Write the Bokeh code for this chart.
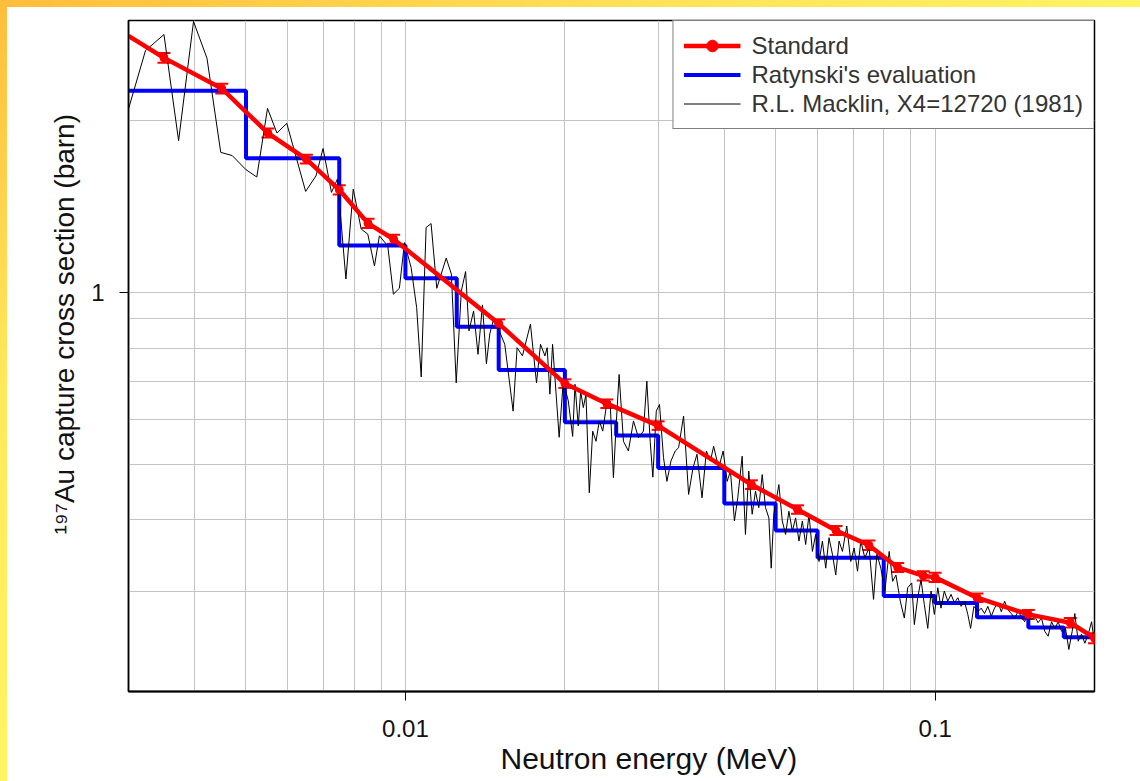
import numpy as np
from bokeh.plotting import figure
from bokeh.models import (FixedTicker, Legend, LegendItem, Title, Whisker, TeeHead,
                          ColumnDataSource, Range1d, CustomJSTickFormatter)
from bokeh.embed import file_html
from bokeh.resources import INLINE

# ---------------- data ----------------
# Standard evaluation (red, with error bars)
std_e = [0.0035, 0.0045, 0.0055, 0.0065, 0.0075, 0.0085, 0.0095, 0.015, 0.020, 0.024,
         0.030, 0.045, 0.055, 0.065, 0.075, 0.085, 0.095, 0.10, 0.12, 0.15, 0.18, 0.20]
std_s = [2.58, 2.28, 1.905, 1.715, 1.515, 1.323, 1.241, 0.883, 0.693, 0.639,
         0.585, 0.461, 0.417, 0.383, 0.361, 0.330, 0.319, 0.317, 0.292, 0.273, 0.264, 0.248]
std_err = [0.05, 0.045, 0.035, 0.03, 0.028, 0.025, 0.022, 0.015, 0.012, 0.011,
           0.010, 0.008, 0.007, 0.007, 0.007, 0.006, 0.006, 0.006, 0.005, 0.005, 0.005, 0.005]
# value of the standard curve where it enters the plot at the left edge
std_edge_e = [0.003]
std_edge_s = [2.82]

# Ratynski's evaluation (blue step function): group edges and values
rat_e = [0.003, 0.005, 0.0075, 0.01, 0.0125, 0.015, 0.02, 0.025, 0.03, 0.04, 0.05,
         0.06, 0.08, 0.1, 0.12, 0.15, 0.175, 0.2]
rat_s = [2.26, 1.72, 1.21, 1.06, 0.872, 0.732, 0.593, 0.562, 0.493, 0.427, 0.383,
         0.343, 0.294, 0.286, 0.270, 0.259, 0.249, 0.249]

# R.L. Macklin, X4=12720 (1981) (black)
mack_e = [0.00300, 0.00323, 0.00350, 0.00373, 0.00398, 0.00422, 0.00448, 0.00471, 0.00500, 0.00524,
          0.00549, 0.00572, 0.00597, 0.00648, 0.00678, 0.00699, 0.00725, 0.00744, 0.00772, 0.00797,
          0.00825, 0.00849, 0.00874, 0.00893, 0.00926, 0.00949, 0.00974, 0.00996, 0.01025, 0.01050,
          0.01071, 0.01094, 0.01118, 0.01146, 0.01194, 0.01221, 0.01247, 0.01275, 0.01299, 0.01318,
          0.01345, 0.01371, 0.01398, 0.01422, 0.01443, 0.01464, 0.01495, 0.01540, 0.01597, 0.01625,
          0.01663, 0.01722, 0.01768, 0.01799, 0.01834, 0.01852, 0.01874, 0.01896, 0.01951, 0.01986,
          0.02030, 0.02069, 0.02090, 0.02120, 0.02142, 0.02167, 0.02192, 0.02224, 0.02257, 0.02290,
          0.02323, 0.02358, 0.02393, 0.02435, 0.02470, 0.02500, 0.02532, 0.02580, 0.02636, 0.02695,
          0.02754, 0.02814, 0.02856, 0.02898, 0.02932, 0.02976, 0.03018, 0.03071, 0.03117, 0.03172,
          0.03232, 0.03279, 0.03351, 0.03425, 0.03491, 0.03552, 0.03631, 0.03700, 0.03765, 0.03819,
          0.03904, 0.03980, 0.04050, 0.04108, 0.04180, 0.04241, 0.04323, 0.04385, 0.04449, 0.04515,
          0.04581, 0.04647, 0.04717, 0.04785, 0.04855, 0.04905, 0.04961, 0.05071, 0.05147, 0.05221,
          0.05297, 0.05377, 0.05454, 0.05534, 0.05616, 0.05698, 0.05780, 0.05867, 0.05951, 0.06038,
          0.06128, 0.06217, 0.06307, 0.06400, 0.06494, 0.06588, 0.06686, 0.06812, 0.06932, 0.07033,
          0.07138, 0.07241, 0.07369, 0.07508, 0.07653, 0.07765, 0.07900, 0.08040, 0.08192, 0.08316,
          0.08436, 0.08597, 0.08749, 0.08878, 0.09035, 0.09138, 0.09273, 0.09408, 0.09544, 0.09687,
          0.09827, 0.09970, 0.1012, 0.1026, 0.1041, 0.1057, 0.1072, 0.1088, 0.1104, 0.1120,
          0.1136, 0.1153, 0.1167, 0.1184, 0.1205, 0.1222, 0.1240, 0.1258, 0.1277, 0.1295,
          0.1315, 0.1334, 0.1353, 0.1373, 0.1393, 0.1413, 0.1434, 0.1455, 0.1476, 0.1498,
          0.1520, 0.1542, 0.1565, 0.1588, 0.1611, 0.1635, 0.1659, 0.1683, 0.1708, 0.1733,
          0.1763, 0.1789, 0.1815, 0.1836, 0.1863, 0.1890, 0.1918, 0.1946, 0.1975, 0.1998]
mack_s = [2.100, 2.657, 2.835, 1.847, 2.988, 2.576, 1.762, 1.739, 1.643, 1.595,
          2.104, 1.905, 1.981, 1.505, 1.603, 1.790, 1.499, 1.582, 1.057, 1.519,
          1.293, 1.267, 1.114, 1.258, 1.208, 0.994, 1.018, 1.224, 1.107, 0.942,
          0.712, 1.301, 1.322, 1.018, 1.150, 1.078, 0.695, 1.007, 1.089, 0.857,
          0.929, 0.780, 0.952, 0.751, 0.847, 0.892, 0.869, 0.812, 0.620, 0.801,
          0.775, 0.881, 0.695, 0.812, 0.775, 0.801, 0.664, 0.812, 0.558, 0.700,
          0.646, 0.560, 0.691, 0.584, 0.672, 0.629, 0.664, 0.446, 0.572, 0.549,
          0.596, 0.572, 0.629, 0.646, 0.474, 0.588, 0.719, 0.549, 0.528, 0.596,
          0.557, 0.572, 0.700, 0.549, 0.475, 0.620, 0.637, 0.514, 0.467, 0.507,
          0.528, 0.535, 0.608, 0.443, 0.493, 0.521, 0.437, 0.528, 0.507, 0.538,
          0.493, 0.528, 0.467, 0.487, 0.398, 0.437, 0.517, 0.377, 0.487, 0.409,
          0.449, 0.420, 0.480, 0.420, 0.403, 0.329, 0.409, 0.461, 0.398, 0.377,
          0.414, 0.382, 0.403, 0.367, 0.398, 0.362, 0.409, 0.352, 0.377, 0.338,
          0.367, 0.329, 0.372, 0.348, 0.320, 0.367, 0.352, 0.390, 0.338, 0.357,
          0.325, 0.367, 0.343, 0.357, 0.290, 0.348, 0.329, 0.300, 0.352, 0.312,
          0.320, 0.288, 0.269, 0.304, 0.310, 0.262, 0.292, 0.314, 0.284, 0.258,
          0.300, 0.273, 0.304, 0.280, 0.300, 0.288, 0.296, 0.286, 0.292, 0.282,
          0.288, 0.273, 0.258, 0.282, 0.276, 0.280, 0.274, 0.282, 0.271, 0.280,
          0.286, 0.276, 0.288, 0.278, 0.274, 0.269, 0.276, 0.271, 0.265, 0.274,
          0.267, 0.271, 0.264, 0.269, 0.255, 0.250, 0.265, 0.258, 0.265, 0.255,
          0.258, 0.237, 0.255, 0.274, 0.245, 0.252, 0.243, 0.252, 0.265, 0.245]

# axis ticks
x_major = [0.01, 0.1]
x_minor = [0.003, 0.004, 0.005, 0.006, 0.007, 0.008, 0.009,
           0.02, 0.03, 0.04, 0.05, 0.06, 0.07, 0.08, 0.09, 0.2]
y_major = [1]
y_minor = [0.2, 0.3, 0.4, 0.5, 0.6, 0.7, 0.8, 0.9, 2, 3]

# ---------------- figure ----------------
FONT = "Liberation Sans"
W, H = 1140, 781
L, R, T, B = 128, 46, 20, 90

p = figure(width=W, height=H, x_axis_type="log", y_axis_type="log",
           x_range=Range1d(0.003, 0.2), y_range=Range1d(0.2, 3.0),
           output_backend="svg", toolbar_location=None,
           min_border_left=L, min_border_right=R, min_border_top=T, min_border_bottom=B)

p.background_fill_color = "white"
p.border_fill_color = None
p.styles = {
    "background": ("linear-gradient(to right, #ffbd3b, #ffe157 55%, #fff462) 0 0 / 100% 7px no-repeat, "
                   "linear-gradient(to bottom, #ffbe3c, #ffe95c 50%, #fff562) 0 0 / 7px 100% no-repeat, "
                   "#ffffff")
}
p.outline_line_color = "black"
p.outline_line_width = 1.5

p.xaxis.ticker = FixedTicker(ticks=x_major, minor_ticks=x_minor)
p.yaxis.ticker = FixedTicker(ticks=y_major, minor_ticks=y_minor)
fmt = CustomJSTickFormatter(code="return tick.toString()")
p.xaxis.formatter = fmt
p.yaxis.formatter = fmt

for ax in (p.xaxis, p.yaxis):
    ax.axis_line_color = "black"
    ax.major_tick_line_color = "black"
    ax.major_tick_out = 9
    ax.major_tick_in = 0
    ax.minor_tick_out = 0
    ax.minor_tick_in = 0
    ax.minor_tick_line_color = None
    ax.major_label_text_font = FONT
    ax.major_label_text_font_size = "24px"
    ax.major_label_text_color = "#111111"
p.xaxis.axis_line_width = 2
p.yaxis.axis_line_width = 1.5
p.xaxis.major_label_standoff = 19
p.yaxis.major_label_standoff = 15

for g in (p.xgrid, p.ygrid):
    g.grid_line_color = "#c4c4c4"
    g.grid_line_width = 1
    g.minor_grid_line_color = "#c4c4c4"
    g.minor_grid_line_width = 1

# ---------------- renderers ----------------
blue = p.step(rat_e, rat_s, mode="after", line_color="#0000ff", line_width=4)
black = p.line(mack_e, mack_s, line_color="black", line_width=1)
red_line = p.line(std_edge_e + std_e, std_edge_s + std_s, line_color="#ff0000", line_width=4.5)
red_pts = p.scatter(std_e, std_s, marker="circle", size=8, fill_color="#ff0000", line_color="#ff0000")

err_src = ColumnDataSource(dict(
    e=std_e,
    up=[s + d for s, d in zip(std_s, std_err)],
    lo=[s - d for s, d in zip(std_s, std_err)],
))
p.add_layout(Whisker(source=err_src, base="e", upper="up", lower="lo", dimension="height",
                     line_color="#ff0000", line_width=2,
                     upper_head=TeeHead(size=13, line_color="#ff0000", line_width=2),
                     lower_head=TeeHead(size=13, line_color="#ff0000", line_width=2)))

legend = Legend(items=[
    LegendItem(label="Standard", renderers=[red_line, red_pts]),
    LegendItem(label="Ratynski's evaluation", renderers=[blue]),
    LegendItem(label="R.L. Macklin, X4=12720 (1981)", renderers=[black]),
], location="top_right", margin=0, padding=10, spacing=0,
    label_height=29, glyph_height=29, glyph_width=57, label_standoff=11,
    border_line_color="black", border_line_width=1.5,
    background_fill_color="white", background_fill_alpha=1.0,
    label_text_font=FONT, label_text_font_size="24px", label_text_color="#333333")
p.add_layout(legend)

# ---------------- axis titles (as side titles, offset like the original) ----------------
p.add_layout(Title(text="Neutron energy (MeV)", align="left", offset=372,
                   vertical_align="bottom", standoff=0,
                   text_font=FONT, text_font_size="30px", text_font_style="normal",
                   text_color="#111111"), "below")
p.add_layout(Title(text="\u00b9\u2079\u2077Au capture cross section (barn)", align="left", offset=157,
                   vertical_align="bottom", standoff=18,
                   text_font=FONT, text_font_size="28px", text_font_style="normal",
                   text_color="#111111"), "left")

open("out.html", "w").write(file_html(p, INLINE))
